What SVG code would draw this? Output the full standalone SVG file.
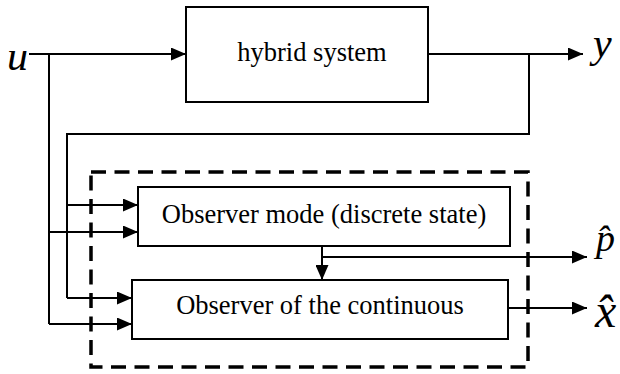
<svg xmlns="http://www.w3.org/2000/svg" width="620" height="374" viewBox="0 0 620 374">
  <style>
    .box { fill: #fff; stroke: #000; stroke-width: 2; }
    .wire { fill: none; stroke: #000; stroke-width: 2; }
    .frame { fill: none; stroke: #000; stroke-width: 3.5; stroke-dasharray: 15 8.5; }
    .label { font-family: "Liberation Serif", "Times New Roman", serif; font-size: 26.5px; fill: #000; }
    .math { font-family: "Liberation Serif", "Times New Roman", serif; font-style: italic; fill: #000; }
  </style>
  <defs>
    <marker id="arrow" markerUnits="userSpaceOnUse" markerWidth="15" markerHeight="13" refX="15" refY="6.5" orient="auto">
      <path d="M0,0 L15,6.5 L0,13 Z" fill="#000"/>
    </marker>
  </defs>

  <rect fill="#fff" x="0" y="0" width="620" height="374"/>

  <!-- observer boundary -->
  <rect class="frame" x="91" y="172" width="437" height="195"/>

  <!-- connectors -->
  <g id="connectors">
    <!-- input u to the plant -->
    <line class="wire" x1="29" y1="54" x2="186" y2="54" marker-end="url(#arrow)"/>
    <!-- u distributed to both observers -->
    <polyline class="wire" points="49,54 49,324"/>
    <line class="wire" x1="49" y1="232" x2="138" y2="232" marker-end="url(#arrow)"/>
    <line class="wire" x1="49" y1="324" x2="132" y2="324" marker-end="url(#arrow)"/>
    <!-- plant output y -->
    <line class="wire" x1="428" y1="54" x2="583" y2="54" marker-end="url(#arrow)"/>
    <!-- y fed back to both observers -->
    <polyline class="wire" points="529,54 529,134 67,134 67,298"/>
    <line class="wire" x1="67" y1="205" x2="138" y2="205" marker-end="url(#arrow)"/>
    <line class="wire" x1="67" y1="298" x2="132" y2="298" marker-end="url(#arrow)"/>
    <!-- mode estimate -->
    <line class="wire" x1="322" y1="246" x2="322" y2="280" marker-end="url(#arrow)"/>
    <line class="wire" x1="322" y1="257" x2="587" y2="257" marker-end="url(#arrow)"/>
    <!-- continuous state estimate -->
    <line class="wire" x1="508" y1="308" x2="587" y2="308" marker-end="url(#arrow)"/>
  </g>

  <g id="hybrid-system">
    <rect class="box" x="186" y="7" width="242" height="95"/>
    <text class="label" x="312" y="61" text-anchor="middle">hybrid system</text>
  </g>

  <g id="mode-observer">
    <rect class="box" x="138" y="187" width="372" height="59"/>
    <text class="label" x="324" y="223" text-anchor="middle">Observer mode (discrete state)</text>
  </g>

  <g id="continuous-observer">
    <rect class="box" x="132" y="280" width="376" height="59"/>
    <text class="label" x="320" y="314" text-anchor="middle">Observer of the continuous</text>
  </g>

  <!-- signal names -->
  <g id="signal-u"><text class="math" x="7" y="70" font-size="42">u</text></g>
  <g id="signal-y"><text class="math" x="593" y="57" font-size="42">y</text></g>
  <g id="signal-p-hat"><text class="math" x="596" y="251" font-size="38">p̂</text></g>
  <g id="signal-x-hat"><text class="math" x="595" y="327" font-size="48">x̂</text></g>
</svg>
